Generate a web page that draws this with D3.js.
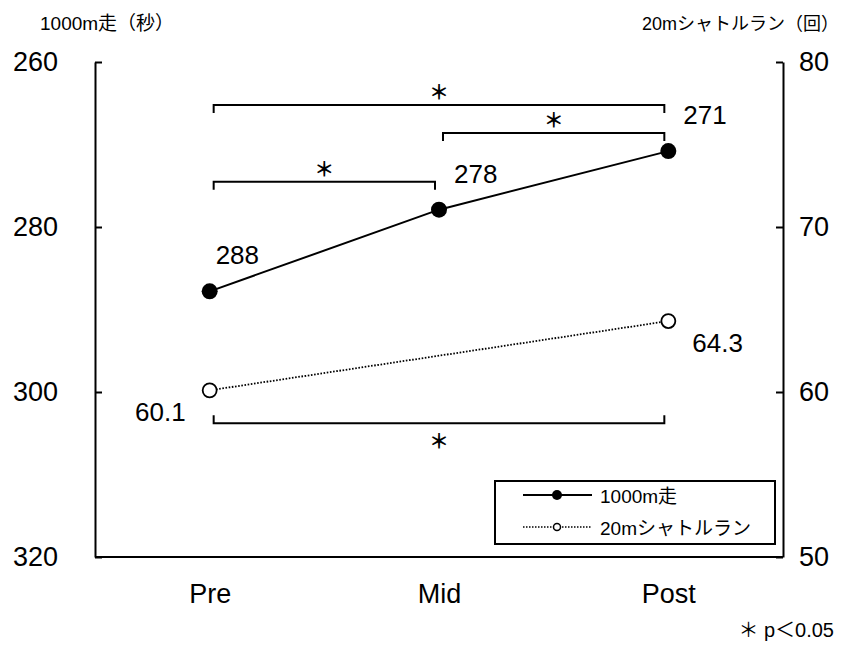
<!DOCTYPE html>
<html>
<head>
<meta charset="utf-8">
<script src="https://cdn.jsdelivr.net/npm/d3@7"></script>
<style>
  body { margin: 0; background: #fff; }
  text { font-family: "Liberation Sans", Arial, "Noto Sans CJK JP", sans-serif; fill: #000; }
  .jp { font-family: "Liberation Sans", "Noto Sans CJK JP", sans-serif; }
</style>
</head>
<body>
<div class="chart"></div>
<script>
// data
const phases = ['Pre', 'Mid', 'Post'];
const run1000 = [287.8, 277.9, 270.8];          // 1000m走 (秒), left axis
const shuttlePhases = ['Pre', 'Post'];
const shuttle20 = [60.1, 64.3];                 // 20mシャトルラン (回), right axis
const leftTicks = [260, 280, 300, 320];
const rightTicks = [80, 70, 60, 50];
// significance brackets: [from, to, level on its axis]
const runSig = [['Pre', 'Post', 265.2], ['Mid', 'Post', 268.6], ['Pre', 'Mid', 274.5]];
const shuttleSig = [['Pre', 'Post', 58.1]];

const W = 841, H = 668;
const svg = d3.select('.chart')
  .append('svg')
    .attr('width', W)
    .attr('height', H);

const x = d3.scalePoint().domain(phases).range([95, 783]).padding(0.5);
const yL = d3.scaleLinear().domain([260, 320]).range([62, 557]);
const yR = d3.scaleLinear().domain([80, 50]).range([62, 557]);

// axes (ticks point inward)
const gL = svg.append('g')
  .attr('transform', 'translate(95,0)')
  .call(d3.axisLeft(yL).tickValues(leftTicks).tickSize(-7).tickSizeOuter(0).tickPadding(37));
const gR = svg.append('g')
  .attr('transform', 'translate(783,0)')
  .call(d3.axisRight(yR).tickValues(rightTicks).tickSize(-7).tickSizeOuter(0).tickPadding(16));
const gB = svg.append('g')
  .attr('transform', 'translate(0,557)')
  .call(d3.axisBottom(x).tickSize(0).tickPadding(27));
gB.select('.domain').attr('d', 'M95,0H783');

[gL, gR, gB].forEach(g => {
  g.selectAll('path, line').attr('stroke', '#000').attr('stroke-width', 2);
  g.selectAll('text')
    .attr('font-size', 27)
    .style('font-family', '"Liberation Sans", Arial, sans-serif');
});

// axis titles
svg.append('text').attr('class', 'jp')
  .attr('x', 40).attr('y', 30)
  .attr('font-size', 19)
  .text('1000m走（秒）');
svg.append('text').attr('class', 'jp')
  .attr('x', 839).attr('y', 30)
  .attr('text-anchor', 'end')
  .attr('font-size', 18)
  .text('20mシャトルラン（回）');

// 20m shuttle line (dotted, open markers)
const shuttleData = shuttlePhases.map((p, i) => ({p, v: shuttle20[i]}));
svg.append('path')
  .datum(shuttleData)
  .attr('fill', 'none')
  .attr('stroke', '#000')
  .attr('stroke-width', 1.8)
  .attr('stroke-dasharray', '1.6,1.6')
  .attr('d', d3.line().x(d => x(d.p)).y(d => yR(d.v)));
svg.selectAll('.open')
  .data(shuttleData)
  .enter().append('circle')
    .attr('class', 'open')
    .attr('cx', d => x(d.p))
    .attr('cy', d => yR(d.v))
    .attr('r', 7)
    .attr('fill', '#fff')
    .attr('stroke', '#000')
    .attr('stroke-width', 1.8);

// 1000m line (solid, filled markers)
const runData = phases.map((p, i) => ({p, v: run1000[i]}));
svg.append('path')
  .datum(runData)
  .attr('fill', 'none')
  .attr('stroke', '#000')
  .attr('stroke-width', 2)
  .attr('d', d3.line().x(d => x(d.p)).y(d => yL(d.v)));
svg.selectAll('.filled')
  .data(runData)
  .enter().append('circle')
    .attr('class', 'filled')
    .attr('cx', d => x(d.p))
    .attr('cy', d => yL(d.v))
    .attr('r', 8)
    .attr('fill', '#000');

// value labels
svg.selectAll('.runLabel')
  .data(runData)
  .enter().append('text')
    .attr('class', 'runLabel')
    .attr('x', (d, i) => x(d.p) + (i === 0 ? 6 : 15))
    .attr('y', d => yL(d.v) - 27)
    .attr('font-size', 26)
    .text(d => d3.format('.0f')(d.v));
svg.selectAll('.shLabel')
  .data(shuttleData)
  .enter().append('text')
    .attr('class', 'shLabel')
    .attr('x', (d, i) => i === 0 ? x(d.p) - 24 : x(d.p) + 24)
    .attr('y', d => yR(d.v) + 31)
    .attr('text-anchor', (d, i) => i === 0 ? 'end' : 'start')
    .attr('font-size', 26)
    .text(d => d3.format('.1f')(d.v));

// significance brackets
function bracket(from, to, yy, dir, starDy) {
  const x1 = x(from) + 4, x2 = x(to) - 4;
  svg.append('path')
    .attr('fill', 'none')
    .attr('stroke', '#000')
    .attr('stroke-width', 2)
    .attr('d', `M${x1},${yy + dir * 8}V${yy}H${x2}V${yy + dir * 8}`);
  svg.append('text').attr('class', 'jp')
    .attr('x', (x1 + x2) / 2)
    .attr('y', yy + starDy)
    .attr('text-anchor', 'middle')
    .attr('dominant-baseline', 'central')
    .attr('font-size', 20)
    .attr('font-weight', 'bold')
    .text('＊');
}
runSig.forEach(s => bracket(s[0], s[1], yL(s[2]), 1, -12));
shuttleSig.forEach(s => bracket(s[0], s[1], yR(s[2]), -1, 19));

// legend
const lg = svg.append('g').attr('transform', 'translate(495,481)');
lg.append('rect')
  .attr('width', 280).attr('height', 63)
  .attr('fill', '#fff').attr('stroke', '#000').attr('stroke-width', 2);
lg.append('line').attr('x1', 28).attr('x2', 97).attr('y1', 14).attr('y2', 14)
  .attr('stroke', '#000').attr('stroke-width', 2);
lg.append('circle').attr('cx', 62).attr('cy', 14).attr('r', 5).attr('fill', '#000');
lg.append('text').attr('class', 'jp')
  .attr('x', 105).attr('y', 15).attr('dominant-baseline', 'central')
  .attr('font-size', 19).text('1000m走');
lg.append('line').attr('x1', 28).attr('x2', 97).attr('y1', 46).attr('y2', 46)
  .attr('stroke', '#000').attr('stroke-width', 1.5).attr('stroke-dasharray', '1.5,1.5');
lg.append('circle').attr('cx', 62).attr('cy', 46).attr('r', 3.5)
  .attr('fill', '#fff').attr('stroke', '#000').attr('stroke-width', 1.5);
lg.append('text').attr('class', 'jp')
  .attr('x', 105).attr('y', 47).attr('dominant-baseline', 'central')
  .attr('font-size', 19).text('20mシャトルラン');

// footnote
svg.append('text').attr('class', 'jp')
  .attr('x', 834).attr('y', 637)
  .attr('text-anchor', 'end')
  .attr('font-size', 20)
  .text('＊ p＜0.05');
</script>
</body>
</html>
